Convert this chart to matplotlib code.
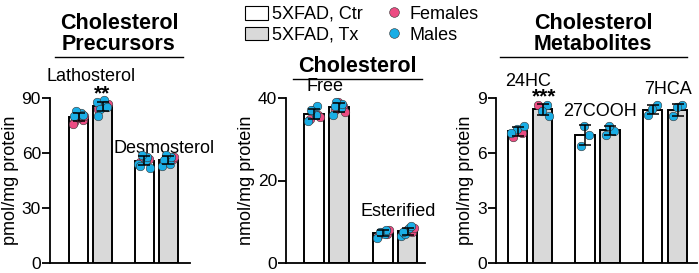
import matplotlib.pyplot as plt
from matplotlib.patches import Patch
from matplotlib.lines import Line2D
import numpy as np

plt.rcParams['font.family'] = ['Liberation Sans', 'DejaVu Sans']

PINK = '#EC4C83'
BLUE = '#1AAEE6'
GREY = '#D9D9D9'

# panel 1: cholesterol precursors (pmol/mg protein)
prec_names = ['Lathosterol', 'Desmosterol']
lath_ctr_f = [77, 78, 79, 80, 76]
lath_ctr_m = [81, 82, 83, 80, 81]
lath_tx_f = [84, 86, 85, 87]
lath_tx_m = [88, 89, 86, 84, 80, 85]
desm_ctr_f = [55, 57, 58]
desm_ctr_m = [52, 54, 56, 58, 59, 53]
desm_tx_f = [55, 57, 56, 58]
desm_tx_m = [53, 54, 58, 59, 56]

# panel 2: cholesterol (nmol/mg protein)
chol_names = ['Free', 'Esterified']
free_ctr_f = [35, 36, 37, 35.5]
free_ctr_m = [34.5, 36, 38, 37]
free_tx_f = [37, 38, 39, 36.5]
free_tx_m = [36, 37.5, 38.5, 39, 38]
est_ctr_f = [6.5, 7, 7.5, 8]
est_ctr_m = [6, 7, 8, 7.5]
est_tx_f = [7, 7.5, 8, 8.5]
est_tx_m = [6.5, 8.5, 9, 7, 7.5]

# panel 3: cholesterol metabolites (pmol/mg protein)
met_names = ['24HC', '27COOH', '7HCA']
hc24_ctr_f = [6.9, 7.1]
hc24_ctr_m = [7.3, 7.5, 7.1]
hc24_tx_f = [8.6]
hc24_tx_m = [8.6, 8.3, 8.0]
cooh_ctr_f = []
cooh_ctr_m = [6.4, 7.0, 7.5]
cooh_tx_f = []
cooh_tx_m = [7.0, 7.2, 7.5]
hca_ctr_f = []
hca_ctr_m = [8.1, 8.6, 8.4]
hca_tx_f = []
hca_tx_m = [8.0, 8.6, 8.5]

stars = {'Lathosterol': '**', '24HC': '***'}

fig = plt.figure(figsize=(6.99, 2.73), dpi=100)
W, H = 699, 273


def px_axes(x0, x1, y0, y1):
    return fig.add_axes([x0 / W, 1 - y1 / H, (x1 - x0) / W, (y1 - y0) / H])


offsets = [-0.18, 0.17, -0.04, 0.24, -0.25, 0.07, 0.12, -0.12]


def draw_group(ax, x, fem, mal, fill):
    vals = np.array(fem + mal, dtype=float)
    m = vals.mean()
    sd = vals.std(ddof=1)
    ax.bar(x, m, width=0.78, color=fill, edgecolor='black', linewidth=1.4, zorder=2)
    pts = [(v, PINK) for v in fem] + [(v, BLUE) for v in mal]
    for i, (v, c) in enumerate(pts):
        ax.scatter(x + offsets[i % len(offsets)], v, s=38, color=c, edgecolor='#333333',
                   linewidth=0.4, zorder=4, clip_on=False)
    ax.errorbar(x, m, yerr=sd, color='black', capsize=4, elinewidth=1.1,
                capthick=1.1, zorder=5, clip_on=False)


def style(ax, ymax, step, ylabel):
    ax.set_ylim(0, ymax)
    ax.set_yticks(np.arange(0, ymax + step / 2, step))
    for s in ['top', 'right']:
        ax.spines[s].set_visible(False)
    ax.spines['left'].set_linewidth(1.3)
    ax.spines['bottom'].set_linewidth(1.3)
    ax.set_xticks([])
    ax.tick_params(axis='y', labelsize=12.5, length=5.5, width=1.3, pad=1)
    ax.set_ylabel(ylabel, fontsize=13, labelpad=2)


gap = 2.75
lab = 13

# panel 1
ax1 = px_axes(50, 190, 98, 263)
groups1 = [(lath_ctr_f, lath_ctr_m, lath_tx_f, lath_tx_m),
           (desm_ctr_f, desm_ctr_m, desm_tx_f, desm_tx_m)]
for k, (cf, cm, tf, tm) in enumerate(groups1):
    draw_group(ax1, k * gap, cf, cm, 'white')
    draw_group(ax1, k * gap + 1, tf, tm, GREY)
ax1.set_xlim(-1.19, 4.65)
style(ax1, 90, 30, 'pmol/mg protein')
ax1.text(0.52, 102, prec_names[0], ha='center', va='center', fontsize=lab, clip_on=False)
ax1.text(1, 89.5, stars['Lathosterol'], ha='center', va='baseline', fontsize=15, fontweight='bold')
ax1.text(3.58, 62.4, prec_names[1], ha='center', va='center', fontsize=lab)

# panel 2
ax2 = px_axes(286, 425, 98, 263)
groups2 = [(free_ctr_f, free_ctr_m, free_tx_f, free_tx_m),
           (est_ctr_f, est_ctr_m, est_tx_f, est_tx_m)]
for k, (cf, cm, tf, tm) in enumerate(groups2):
    draw_group(ax2, k * gap, cf, cm, 'white')
    draw_group(ax2, k * gap + 1, tf, tm, GREY)
ax2.set_xlim(-1.12, 4.44)
style(ax2, 40, 20, 'nmol/mg protein')
ax2.text(0.44, 42.8, chol_names[0], ha='center', va='center', fontsize=lab)
ax2.text(3.36, 12.5, chol_names[1], ha='center', va='center', fontsize=lab)

# panel 3
ax3 = px_axes(496, 697, 98, 263)
groups3 = [(hc24_ctr_f, hc24_ctr_m, hc24_tx_f, hc24_tx_m),
           (cooh_ctr_f, cooh_ctr_m, cooh_tx_f, cooh_tx_m),
           (hca_ctr_f, hca_ctr_m, hca_tx_f, hca_tx_m)]
g3 = 2.7
for k, (cf, cm, tf, tm) in enumerate(groups3):
    draw_group(ax3, k * g3, cf, cm, 'white')
    draw_group(ax3, k * g3 + 1, tf, tm, GREY)
ax3.set_xlim(-0.86, 7.18)
style(ax3, 9, 3, 'pmol/mg protein')
ax3.text(0.42, 9.92, met_names[0], ha='center', va='center', fontsize=lab)
ax3.text(1.05, 8.75, stars['24HC'], ha='center', va='baseline', fontsize=15, fontweight='bold')
ax3.text(3.3, 8.24, met_names[1], ha='center', va='center', fontsize=lab)
ax3.text(6.0, 9.49, met_names[2], ha='center', va='center', fontsize=lab)

# panel titles with rule lines
fig.text(119 / W, 1 - 34 / H, 'Cholesterol\nPrecursors', ha='center', va='center',
         fontsize=15.5, fontweight='bold', linespacing=0.95)
fig.add_artist(Line2D([55 / W, 183 / W], [1 - 57 / H, 1 - 57 / H], color='black', lw=1))
fig.text(357 / W, 1 - 66 / H, 'Cholesterol', ha='center', va='center',
         fontsize=15.5, fontweight='bold')
fig.add_artist(Line2D([293 / W, 422 / W], [1 - 79 / H, 1 - 79 / H], color='black', lw=1))
fig.text(593 / W, 1 - 34 / H, 'Cholesterol\nMetabolites', ha='center', va='center',
         fontsize=15.5, fontweight='bold', linespacing=0.95)
fig.add_artist(Line2D([500 / W, 687 / W], [1 - 57 / H, 1 - 57 / H], color='black', lw=1))

# legend
handles = [Patch(facecolor='white', edgecolor='black', linewidth=0.8, label='5XFAD, Ctr'),
           Patch(facecolor=GREY, edgecolor='black', linewidth=0.8, label='5XFAD, Tx'),
           Line2D([], [], marker='o', ls='none', markersize=7, markerfacecolor=PINK,
                  markeredgecolor='#333333', markeredgewidth=0.4, label='Females'),
           Line2D([], [], marker='o', ls='none', markersize=7, markerfacecolor=BLUE,
                  markeredgecolor='#333333', markeredgewidth=0.4, label='Males')]
fig.legend(handles=handles, ncol=2, loc='upper left', bbox_to_anchor=(232 / W, 1.025),
           frameon=False, fontsize=13, handlelength=1.3, handleheight=0.8,
           handletextpad=0.2, columnspacing=1.1, labelspacing=0.2, borderpad=0.2)

fig.savefig('out.png', dpi=100)
